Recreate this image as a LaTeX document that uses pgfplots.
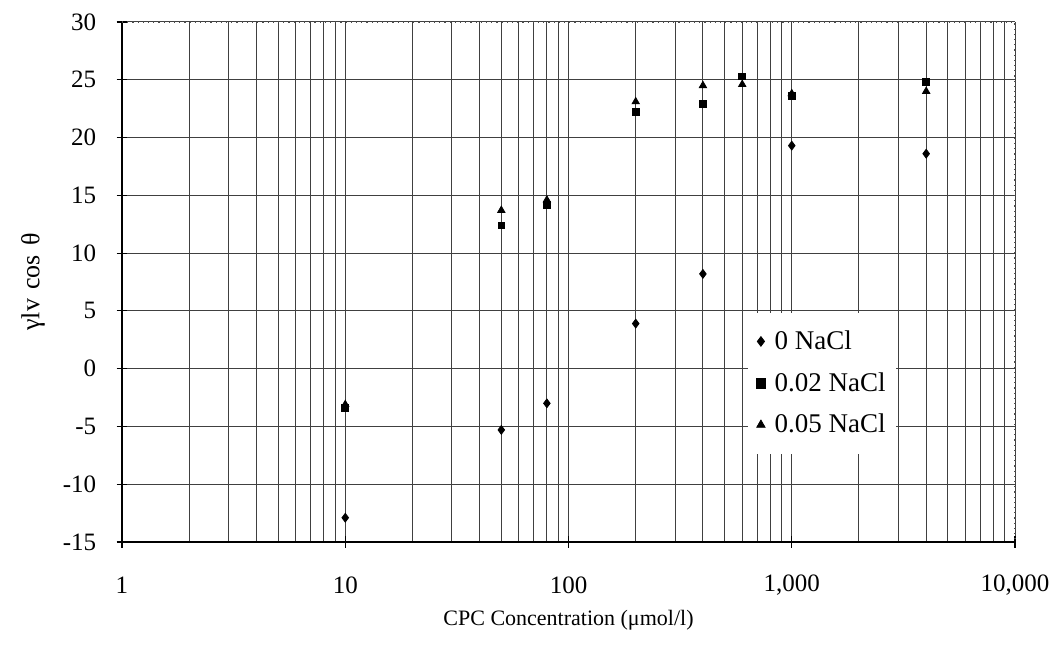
\documentclass[border=0pt]{standalone}
\usepackage{fontspec}
\setmainfont{Liberation Serif}
\usepackage{pgfplots}
\pgfplotsset{compat=1.18}
\begin{document}
\begin{tikzpicture}
\path[use as bounding box] (-61pt,-60pt) rectangle (465pt,271pt);
\begin{axis}[
  at={(0,0)}, anchor=south west,
  scale only axis, width=446.5pt, height=260pt,
  xmode=log, xmin=1, xmax=10000,
  ymin=-15, ymax=30,
  xtick={1,10,100,1000,10000},
  xticklabels={1,10,100,{1,000},{10,000}},
  ytick={-15,-10,-5,0,5,10,15,20,25,30},
  yticklabels={-15,-10,-5,0,5,10,15,20,25,30},
  axis lines*=left, axis line style={-, black, line width=0.7pt},
  tick align=center, major tick length=5.5pt, minor tick length=0pt,
  tick style={black, line width=0.6pt},
  xmajorgrids, xminorgrids, ymajorgrids,
  major grid style={black!75, line width=0.5pt},
  minor grid style={black!75, line width=0.5pt},
  ticklabel style={font=\fontsize{12.5}{14}\selectfont},
  yticklabel style={inner sep=0pt, anchor=east, xshift=-10pt},
  xticklabel style={inner sep=0pt, anchor=center, yshift=-19pt},
  every axis y label/.style={at={(rel axis cs:0,0.5)}, xshift=-44.5pt, rotate=90, anchor=center, font=\fontsize{13}{15}\selectfont},
  every axis x label/.style={at={(rel axis cs:0.5,0)}, yshift=-39pt, anchor=center, font=\fontsize{11}{13}\selectfont},
  xlabel={CPC Concentration (μmol/l)},
  ylabel={γlv\hspace{0.35em}cos\hspace{0.35em}θ},
  legend style={at={(0.70,0.442)}, anchor=north west, draw=none, fill=white,
    font=\fontsize{13.5}{15}\selectfont, inner xsep=3pt, inner ysep=7pt, row sep=6pt},
  legend image code/.code={%
    \path[draw=none,fill=none] (0cm,0cm) -- (0.3cm,0cm);
    \draw[#1,only marks,mark size=2.4pt] plot coordinates {(0.13cm,0cm)};},
  legend cell align=left,
  clip=false,
]
\draw[black!70, dotted, line width=0.6pt] (rel axis cs:0,1) -- (rel axis cs:1,1) -- (rel axis cs:1,0);
\addplot[only marks, mark=diamond*, mark size=2.2pt, black] coordinates {
  (10,-12.9) (50,-5.3) (80,-3.0) (200,3.9) (400,8.2) (1000,19.3) (4000,18.6)
};
\addlegendentry{0 NaCl}
\addplot[only marks, mark=square*, mark size=1.7pt, black] coordinates {
  (10,-3.4) (50,12.4) (80,14.2) (200,22.2) (400,22.9) (600,25.3) (1000,23.6) (4000,24.8)
};
\addlegendentry{0.02 NaCl}
\addplot[only marks, mark=triangle*, mark size=2.1pt, black] coordinates {
  (10,-3.1) (50,13.7) (80,14.6) (200,23.1) (400,24.5) (600,24.6) (1000,23.8) (4000,24.0)
};
\addlegendentry{0.05 NaCl}
\end{axis}
\end{tikzpicture}
\end{document}
